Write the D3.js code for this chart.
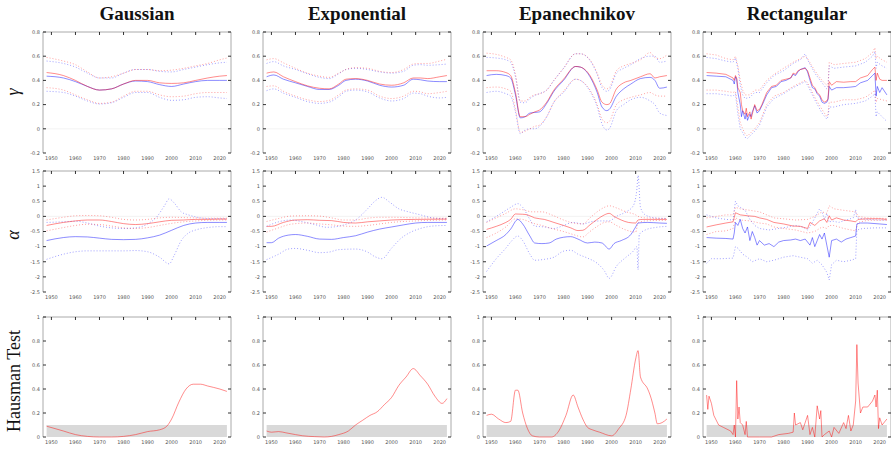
<!DOCTYPE html>
<html>
<head>
<meta charset="utf-8">
<script src="https://cdn.jsdelivr.net/npm/d3@7"></script>
<style>
  body { margin: 0; background: #fff; }
  svg { display: block; }
</style>
</head>
<body>
<svg id="chart" width="891" height="449"></svg>
<script>
// ---- data ----
const kernels = ["Gaussian", "Exponential", "Epanechnikov", "Rectangular"];
const yearTicks = [1950, 1960, 1970, 1980, 1990, 2000, 2010, 2020];
const gammaTicks = [-0.2, 0, 0.2, 0.4, 0.6, 0.8];
const alphaTicks = [-2.5, -2, -1.5, -1, -0.5, 0, 0.5, 1, 1.5];
const hausTicks = [0, 0.2, 0.4, 0.6, 0.8, 1];
const hausLevel = 0.1;

// Gaussian, gamma
const gauGammaRed = [[1948,0.465],[1955,0.44],[1960,0.40],[1965,0.35],[1970,0.32],[1975,0.33],[1980,0.37],[1985,0.40],[1990,0.40],[1995,0.38],[2000,0.375],[2005,0.38],[2010,0.40],[2015,0.42],[2020,0.435],[2023,0.44]];
const gauGammaBlue = [[1948,0.435],[1955,0.42],[1960,0.39],[1965,0.35],[1970,0.32],[1975,0.33],[1980,0.37],[1985,0.395],[1990,0.39],[1995,0.365],[2000,0.35],[2005,0.37],[2010,0.39],[2015,0.40],[2020,0.40],[2023,0.40]];
const gauGammaRedHi = [[1948,0.59],[1955,0.56],[1960,0.53],[1965,0.47],[1970,0.42],[1975,0.43],[1980,0.46],[1985,0.49],[1990,0.49],[1995,0.48],[2000,0.485],[2005,0.50],[2010,0.52],[2015,0.54],[2020,0.57],[2023,0.585]];
const gauGammaBlueHi = [[1948,0.56],[1955,0.54],[1960,0.51],[1965,0.46],[1970,0.42],[1975,0.42],[1980,0.46],[1985,0.49],[1990,0.49],[1995,0.475],[2000,0.47],[2005,0.49],[2010,0.51],[2015,0.53],[2020,0.545],[2023,0.55]];
const gauGammaRedLo = [[1948,0.34],[1955,0.32],[1960,0.28],[1965,0.24],[1970,0.21],[1975,0.22],[1980,0.27],[1985,0.31],[1990,0.31],[1995,0.28],[2000,0.265],[2005,0.27],[2010,0.29],[2015,0.30],[2020,0.30],[2023,0.30]];
const gauGammaBlueLo = [[1948,0.31],[1955,0.30],[1960,0.27],[1965,0.23],[1970,0.205],[1975,0.215],[1980,0.26],[1985,0.30],[1990,0.30],[1995,0.26],[2000,0.235],[2005,0.24],[2010,0.26],[2015,0.265],[2020,0.255],[2023,0.25]];

// Exponential, gamma
const expGammaRed = [[1948,0.46],[1951,0.47],[1955,0.43],[1960,0.39],[1965,0.355],[1970,0.335],[1974,0.33],[1978,0.37],[1981,0.41],[1985,0.415],[1990,0.40],[1995,0.37],[2000,0.36],[2005,0.38],[2009,0.42],[2012,0.42],[2015,0.415],[2020,0.43],[2023,0.44]];
const expGammaBlue = [[1948,0.43],[1951,0.445],[1955,0.41],[1960,0.38],[1965,0.35],[1970,0.325],[1974,0.325],[1978,0.36],[1981,0.40],[1985,0.41],[1990,0.395],[1995,0.36],[2000,0.345],[2005,0.36],[2009,0.41],[2012,0.405],[2015,0.395],[2020,0.39],[2023,0.39]];
const expGammaRedHi = [[1948,0.57],[1951,0.58],[1955,0.545],[1960,0.50],[1965,0.46],[1970,0.435],[1974,0.425],[1978,0.46],[1981,0.49],[1985,0.505],[1990,0.50],[1995,0.475],[2000,0.465],[2005,0.49],[2009,0.535],[2012,0.54],[2015,0.54],[2020,0.56],[2023,0.575]];
const expGammaBlueHi = [[1948,0.54],[1951,0.555],[1955,0.52],[1960,0.49],[1965,0.455],[1970,0.425],[1974,0.415],[1978,0.455],[1981,0.49],[1985,0.50],[1990,0.49],[1995,0.47],[2000,0.46],[2005,0.475],[2009,0.525],[2012,0.53],[2015,0.525],[2020,0.53],[2023,0.535]];
const expGammaRedLo = [[1948,0.35],[1951,0.355],[1955,0.31],[1960,0.27],[1965,0.24],[1970,0.225],[1974,0.235],[1978,0.28],[1981,0.32],[1985,0.33],[1990,0.32],[1995,0.27],[2000,0.25],[2005,0.27],[2009,0.31],[2012,0.305],[2015,0.29],[2020,0.30],[2023,0.31]];
const expGammaBlueLo = [[1948,0.315],[1951,0.33],[1955,0.295],[1960,0.26],[1965,0.225],[1970,0.21],[1974,0.22],[1978,0.265],[1981,0.31],[1985,0.32],[1990,0.305],[1995,0.255],[2000,0.23],[2005,0.25],[2009,0.295],[2012,0.29],[2015,0.27],[2020,0.255],[2023,0.26]];

// Epanechnikov, gamma
const epaGammaRed = [[1948,0.48],[1952,0.48],[1956,0.465],[1958,0.44],[1960,0.30],[1962,0.10],[1964,0.10],[1966,0.12],[1968,0.14],[1970,0.155],[1973,0.22],[1976,0.32],[1980,0.41],[1985,0.515],[1987,0.51],[1991,0.44],[1994,0.32],[1996,0.22],[1998,0.20],[1999,0.205],[2002,0.33],[2005,0.38],[2008,0.40],[2012,0.43],[2016,0.455],[2018,0.42],[2020,0.43],[2023,0.44]];
const epaGammaBlue = [[1948,0.44],[1952,0.45],[1956,0.44],[1958,0.42],[1960,0.28],[1962,0.09],[1964,0.10],[1966,0.13],[1968,0.135],[1970,0.14],[1973,0.21],[1976,0.31],[1980,0.40],[1985,0.515],[1987,0.51],[1991,0.43],[1994,0.30],[1996,0.18],[1998,0.15],[1999,0.16],[2002,0.27],[2005,0.33],[2008,0.37],[2012,0.415],[2016,0.425],[2018,0.40],[2020,0.335],[2023,0.345]];
const epaGammaRedHi = [[1948,0.625],[1952,0.615],[1956,0.59],[1958,0.57],[1960,0.45],[1962,0.23],[1964,0.23],[1966,0.26],[1968,0.28],[1970,0.29],[1973,0.32],[1976,0.40],[1980,0.50],[1985,0.62],[1987,0.62],[1991,0.57],[1994,0.46],[1996,0.36],[1998,0.33],[1999,0.34],[2002,0.48],[2005,0.52],[2008,0.54],[2012,0.57],[2016,0.63],[2018,0.59],[2020,0.58],[2023,0.61]];
const epaGammaBlueHi = [[1948,0.59],[1952,0.585],[1956,0.57],[1958,0.55],[1960,0.43],[1962,0.22],[1964,0.215],[1966,0.25],[1968,0.275],[1970,0.29],[1973,0.32],[1976,0.40],[1980,0.50],[1985,0.62],[1987,0.62],[1991,0.565],[1994,0.45],[1996,0.34],[1998,0.31],[1999,0.32],[2002,0.46],[2005,0.50],[2008,0.53],[2012,0.58],[2016,0.60],[2018,0.60],[2020,0.55],[2023,0.56]];
const epaGammaRedLo = [[1948,0.34],[1952,0.345],[1956,0.33],[1958,0.31],[1960,0.16],[1962,-0.03],[1964,-0.02],[1966,0.0],[1968,0.02],[1970,0.03],[1973,0.10],[1976,0.22],[1980,0.31],[1985,0.41],[1987,0.40],[1991,0.32],[1994,0.20],[1996,0.08],[1998,0.05],[1999,0.06],[2002,0.20],[2005,0.24],[2008,0.26],[2012,0.28],[2016,0.30],[2018,0.28],[2020,0.27],[2023,0.27]];
const epaGammaBlueLo = [[1948,0.30],[1952,0.31],[1956,0.29],[1958,0.27],[1960,0.14],[1962,-0.04],[1964,-0.01],[1966,0.0],[1968,0.0],[1970,0.02],[1973,0.10],[1976,0.22],[1980,0.30],[1985,0.41],[1987,0.40],[1991,0.31],[1994,0.18],[1996,0.04],[1998,-0.01],[1999,0.0],[2002,0.15],[2005,0.20],[2008,0.24],[2012,0.26],[2016,0.23],[2018,0.20],[2020,0.13],[2023,0.11]];

// Rectangular, gamma
const recGammaRed = [[1948,0.465],[1952,0.46],[1956,0.45],[1959,0.42],[1959.5,0.40],[1960,0.44],[1960.5,0.42],[1961,0.34],[1962,0.30],[1962.5,0.20],[1963,0.15],[1964,0.12],[1964.5,0.17],[1965,0.10],[1966,0.14],[1966.5,0.08],[1967,0.12],[1968,0.20],[1969,0.15],[1970,0.16],[1971,0.20],[1973,0.30],[1975,0.35],[1977,0.36],[1979,0.40],[1981,0.41],[1983,0.42],[1984,0.46],[1985,0.45],[1986,0.48],[1987,0.49],[1989,0.50],[1990,0.48],[1991,0.42],[1992,0.36],[1993,0.34],[1994,0.30],[1995,0.28],[1996,0.24],[1997,0.22],[1998,0.23],[1998.5,0.25],[1999,0.39],[2000,0.36],[2002,0.39],[2005,0.385],[2008,0.39],[2010,0.39],[2012,0.42],[2015,0.44],[2017,0.49],[2018,0.51],[2018.5,0.40],[2019,0.46],[2020,0.41],[2021,0.40],[2023,0.40]];
const recGammaBlue = [[1948,0.44],[1952,0.435],[1956,0.43],[1959,0.40],[1959.5,0.37],[1960,0.43],[1960.5,0.41],[1961,0.30],[1962,0.20],[1962.5,0.10],[1963,0.15],[1964,0.08],[1964.5,0.13],[1965,0.07],[1966,0.12],[1966.5,0.10],[1967,0.14],[1968,0.19],[1969,0.13],[1970,0.15],[1971,0.19],[1973,0.28],[1975,0.34],[1977,0.35],[1979,0.39],[1981,0.40],[1983,0.42],[1984,0.45],[1985,0.44],[1986,0.47],[1987,0.49],[1989,0.505],[1990,0.47],[1991,0.40],[1992,0.34],[1993,0.33],[1994,0.29],[1995,0.27],[1996,0.22],[1997,0.21],[1998,0.22],[1998.5,0.24],[1999,0.35],[2000,0.32],[2002,0.34],[2005,0.34],[2008,0.345],[2010,0.35],[2012,0.38],[2015,0.40],[2017,0.44],[2018,0.46],[2018.5,0.27],[2019,0.35],[2020,0.30],[2021,0.34],[2023,0.28]];
const recGammaRedHi = [[1948,0.62],[1952,0.61],[1956,0.58],[1959,0.57],[1960,0.60],[1961,0.52],[1962,0.40],[1963,0.32],[1964,0.28],[1966,0.28],[1968,0.32],[1970,0.32],[1973,0.40],[1976,0.45],[1980,0.50],[1984,0.55],[1987,0.58],[1989,0.60],[1990,0.58],[1993,0.48],[1996,0.40],[1998,0.36],[1998.5,0.35],[1999,0.55],[2001,0.53],[2005,0.54],[2010,0.55],[2014,0.58],[2017,0.63],[2018,0.67],[2018.5,0.58],[2019,0.60],[2021,0.57],[2023,0.55]];
const recGammaBlueHi = [[1948,0.59],[1952,0.58],[1956,0.56],[1959,0.55],[1960,0.585],[1961,0.50],[1962,0.36],[1963,0.28],[1964,0.25],[1966,0.26],[1968,0.30],[1970,0.30],[1973,0.38],[1976,0.44],[1980,0.48],[1984,0.54],[1987,0.57],[1989,0.62],[1990,0.57],[1993,0.46],[1996,0.38],[1998,0.33],[1998.5,0.34],[1999,0.52],[2001,0.50],[2005,0.51],[2010,0.52],[2014,0.55],[2017,0.60],[2018,0.64],[2018.5,0.50],[2019,0.55],[2021,0.52],[2023,0.50]];
const recGammaRedLo = [[1948,0.32],[1952,0.32],[1956,0.31],[1959,0.30],[1960,0.31],[1961,0.18],[1962,0.05],[1963,0.0],[1964,-0.04],[1965,-0.06],[1966,-0.04],[1968,0.0],[1970,0.05],[1973,0.20],[1976,0.27],[1980,0.30],[1984,0.35],[1987,0.38],[1989,0.40],[1990,0.38],[1993,0.26],[1996,0.16],[1998,0.10],[1998.5,0.12],[1999,0.22],[2001,0.22],[2005,0.24],[2010,0.24],[2014,0.26],[2017,0.30],[2018,0.32],[2018.5,0.22],[2019,0.25],[2021,0.24],[2023,0.23]];
const recGammaBlueLo = [[1948,0.29],[1952,0.29],[1956,0.28],[1959,0.27],[1960,0.29],[1961,0.12],[1962,0.0],[1963,-0.03],[1964,-0.07],[1965,-0.08],[1966,-0.06],[1968,-0.02],[1970,0.03],[1973,0.18],[1976,0.25],[1980,0.29],[1984,0.34],[1987,0.37],[1989,0.39],[1990,0.36],[1993,0.24],[1996,0.13],[1998,0.08],[1998.5,0.10],[1999,0.18],[2001,0.18],[2005,0.20],[2010,0.21],[2014,0.23],[2017,0.27],[2018,0.29],[2018.5,0.10],[2019,0.14],[2021,0.10],[2023,0.06]];

// Gaussian, alpha
const gauAlphaRed = [[1948,-0.30],[1955,-0.20],[1960,-0.15],[1965,-0.12],[1970,-0.12],[1975,-0.17],[1980,-0.24],[1985,-0.27],[1990,-0.24],[1995,-0.18],[2000,-0.13],[2005,-0.12],[2010,-0.10],[2015,-0.10],[2020,-0.09],[2023,-0.09]];
const gauAlphaBlue = [[1948,-0.80],[1955,-0.70],[1960,-0.67],[1965,-0.68],[1970,-0.72],[1975,-0.76],[1980,-0.77],[1985,-0.76],[1990,-0.71],[1995,-0.62],[2000,-0.46],[2005,-0.30],[2010,-0.22],[2015,-0.20],[2020,-0.20],[2023,-0.20]];
const gauAlphaRedHi = [[1948,-0.12],[1955,-0.03],[1960,0.02],[1965,0.03],[1970,0.02],[1975,-0.03],[1980,-0.10],[1985,-0.12],[1990,-0.10],[1995,-0.05],[2000,-0.03],[2005,-0.04],[2010,-0.05],[2015,-0.06],[2023,-0.06]];
const gauAlphaBlueHi = [[1948,-0.20],[1955,-0.18],[1960,-0.16],[1965,-0.22],[1970,-0.32],[1975,-0.38],[1980,-0.40],[1985,-0.38],[1990,-0.25],[1994,0.0],[1997,0.35],[1999,0.58],[2001,0.45],[2004,0.15],[2007,0.05],[2010,-0.02],[2015,-0.07],[2023,-0.08]];
const gauAlphaRedLo = [[1948,-0.48],[1955,-0.37],[1960,-0.30],[1965,-0.26],[1970,-0.27],[1975,-0.32],[1980,-0.38],[1985,-0.40],[1990,-0.37],[1995,-0.30],[2000,-0.23],[2005,-0.18],[2010,-0.15],[2015,-0.13],[2023,-0.12]];
const gauAlphaBlueLo = [[1948,-1.42],[1955,-1.25],[1960,-1.17],[1965,-1.14],[1970,-1.14],[1980,-1.14],[1985,-1.13],[1990,-1.17],[1995,-1.35],[1999,-1.57],[2001,-1.30],[2004,-0.80],[2007,-0.55],[2010,-0.45],[2015,-0.37],[2020,-0.34],[2023,-0.34]];

// Exponential, alpha
const expAlphaRed = [[1948,-0.33],[1950,-0.33],[1955,-0.20],[1960,-0.12],[1965,-0.11],[1970,-0.13],[1975,-0.14],[1980,-0.20],[1985,-0.22],[1990,-0.18],[1995,-0.15],[2000,-0.12],[2010,-0.10],[2023,-0.09]];
const expAlphaBlue = [[1948,-0.87],[1950,-0.87],[1953,-0.72],[1957,-0.62],[1960,-0.60],[1965,-0.66],[1970,-0.75],[1975,-0.76],[1980,-0.70],[1985,-0.64],[1990,-0.52],[1995,-0.42],[2000,-0.35],[2005,-0.28],[2010,-0.22],[2015,-0.20],[2023,-0.20]];
const expAlphaRedHi = [[1948,-0.17],[1953,-0.07],[1958,0.01],[1965,0.02],[1970,0.01],[1975,-0.05],[1980,-0.12],[1985,-0.12],[1990,-0.06],[1995,-0.03],[2000,-0.03],[2010,-0.05],[2023,-0.06]];
const expAlphaBlueHi = [[1948,-0.33],[1953,-0.18],[1958,-0.12],[1963,-0.18],[1968,-0.27],[1973,-0.36],[1977,-0.34],[1981,-0.26],[1985,-0.12],[1990,0.25],[1993,0.50],[1996,0.63],[1999,0.48],[2003,0.25],[2007,0.15],[2012,0.05],[2017,-0.05],[2023,-0.08]];
const expAlphaRedLo = [[1948,-0.52],[1953,-0.38],[1958,-0.26],[1965,-0.22],[1970,-0.25],[1975,-0.28],[1980,-0.32],[1985,-0.33],[1990,-0.30],[1995,-0.25],[2000,-0.20],[2010,-0.15],[2023,-0.12]];
const expAlphaBlueLo = [[1948,-1.43],[1953,-1.25],[1957,-1.08],[1960,-1.06],[1965,-1.12],[1970,-1.20],[1974,-1.18],[1978,-1.10],[1985,-1.08],[1990,-1.18],[1993,-1.33],[1996,-1.40],[2000,-1.05],[2004,-0.72],[2008,-0.52],[2012,-0.40],[2017,-0.32],[2023,-0.30]];

// Epanechnikov, alpha
const epaAlphaRed = [[1948,-0.43],[1952,-0.33],[1956,-0.20],[1958,-0.10],[1960,0.08],[1963,0.07],[1965,0.05],[1968,-0.05],[1972,-0.10],[1976,-0.20],[1980,-0.30],[1983,-0.38],[1986,-0.47],[1988,-0.46],[1991,-0.28],[1994,-0.10],[1997,0.05],[1999,0.10],[2001,0.0],[2004,-0.12],[2007,-0.20],[2010,-0.22],[2011,-0.12],[2013,-0.10],[2023,-0.10]];
const epaAlphaBlue = [[1948,-0.98],[1952,-0.80],[1956,-0.60],[1958,-0.42],[1961,-0.10],[1963,-0.25],[1966,-0.65],[1968,-0.88],[1971,-0.90],[1974,-0.88],[1977,-0.75],[1980,-0.69],[1983,-0.67],[1986,-0.75],[1990,-0.88],[1993,-0.85],[1996,-0.88],[1999,-1.08],[2001,-0.90],[2004,-0.80],[2008,-0.60],[2010,-0.35],[2011,-0.22],[2015,-0.20],[2020,-0.22],[2023,-0.23]];
const epaAlphaRedHi = [[1948,-0.20],[1952,-0.05],[1956,0.10],[1960,0.25],[1963,0.22],[1967,0.15],[1971,0.15],[1975,0.05],[1980,-0.12],[1984,-0.22],[1988,-0.25],[1991,-0.05],[1994,0.15],[1997,0.30],[1999,0.35],[2002,0.28],[2006,0.15],[2010,0.05],[2011,0.0],[2014,-0.05],[2023,-0.07]];
const epaAlphaBlueHi = [[1948,-0.18],[1952,0.0],[1956,0.20],[1958,0.30],[1961,0.42],[1963,0.30],[1966,-0.10],[1968,-0.32],[1972,-0.35],[1976,-0.40],[1980,-0.30],[1984,-0.20],[1988,-0.25],[1992,-0.17],[1996,-0.15],[1999,-0.15],[2002,0.0],[2006,0.15],[2009,0.35],[2010.5,0.90],[2011,1.35],[2012,0.30],[2014,0.05],[2018,-0.05],[2023,-0.07]];
const epaAlphaRedLo = [[1948,-0.70],[1952,-0.55],[1956,-0.35],[1960,-0.08],[1963,-0.10],[1967,-0.22],[1971,-0.30],[1975,-0.40],[1980,-0.50],[1984,-0.60],[1988,-0.68],[1991,-0.50],[1994,-0.33],[1997,-0.20],[1999,-0.18],[2002,-0.30],[2006,-0.45],[2010,-0.52],[2011,-0.22],[2014,-0.15],[2023,-0.13]];
const epaAlphaBlueLo = [[1948,-1.82],[1952,-1.40],[1956,-1.05],[1958,-0.85],[1961,-0.65],[1963,-0.80],[1966,-1.25],[1968,-1.45],[1972,-1.42],[1976,-1.35],[1980,-1.15],[1983,-1.12],[1986,-1.25],[1990,-1.38],[1994,-1.55],[1997,-1.80],[1999,-2.05],[2002,-1.65],[2006,-1.35],[2009,-1.15],[2010.5,-1.00],[2011,-1.76],[2011.5,-0.60],[2014,-0.45],[2018,-0.37],[2023,-0.33]];

// Rectangular, alpha
const recAlphaRed = [[1948,-0.35],[1952,-0.28],[1956,-0.22],[1959,-0.18],[1960,0.12],[1962,0.05],[1965,0.02],[1968,0.0],[1970,-0.05],[1973,-0.10],[1976,-0.20],[1980,-0.25],[1984,-0.32],[1987,-0.33],[1990,-0.40],[1991,-0.20],[1993,-0.30],[1995,-0.15],[1997,-0.08],[1998,-0.20],[1999,0.02],[2000,-0.12],[2002,-0.05],[2005,-0.12],[2008,-0.15],[2010,-0.18],[2011,-0.10],[2015,-0.08],[2020,-0.08],[2023,-0.10]];
const recAlphaBlue = [[1948,-0.70],[1952,-0.72],[1956,-0.73],[1959,-0.75],[1959.5,-0.55],[1960,-0.20],[1961,-0.30],[1962,-0.10],[1963,-0.40],[1964,-0.55],[1965,-0.35],[1966,-0.80],[1967,-0.50],[1968,-0.70],[1969,-0.95],[1970,-0.80],[1972,-0.95],[1974,-0.90],[1976,-1.00],[1978,-0.85],[1980,-0.80],[1983,-0.78],[1985,-0.75],[1987,-0.80],[1989,-0.75],[1991,-0.95],[1992,-0.70],[1993,-1.00],[1994,-0.80],[1995,-0.60],[1996,-0.75],[1997,-0.55],[1998,-0.95],[1999,-1.35],[2000,-0.80],[2002,-0.75],[2004,-0.85],[2006,-0.75],[2008,-0.70],[2010,-0.65],[2010.5,-0.25],[2012,-0.22],[2015,-0.22],[2020,-0.25],[2023,-0.27]];
const recAlphaRedHi = [[1948,-0.05],[1952,0.0],[1956,0.05],[1959,0.05],[1960,0.30],[1962,0.25],[1966,0.20],[1970,0.15],[1973,0.05],[1976,-0.05],[1980,-0.08],[1985,-0.12],[1990,-0.10],[1993,0.0],[1996,0.15],[1998,0.10],[1999,0.35],[2001,0.25],[2005,0.20],[2010,0.15],[2011,0.0],[2015,-0.05],[2023,-0.07]];
const recAlphaBlueHi = [[1948,0.05],[1952,-0.05],[1956,-0.10],[1959,-0.12],[1960,0.50],[1961,0.35],[1962,0.30],[1964,0.20],[1966,-0.10],[1968,-0.30],[1970,-0.40],[1974,-0.45],[1978,-0.40],[1982,-0.35],[1985,-0.30],[1988,-0.35],[1990,-0.45],[1992,-0.20],[1994,0.10],[1995,0.25],[1996,0.15],[1997,-0.10],[1998,0.10],[1999,-0.20],[2000,-0.15],[2003,-0.20],[2006,-0.12],[2009,-0.05],[2010,0.22],[2010.5,-0.05],[2015,-0.10],[2020,-0.12],[2023,-0.12]];
const recAlphaRedLo = [[1948,-0.60],[1952,-0.50],[1956,-0.48],[1959,-0.40],[1960,-0.05],[1962,-0.12],[1966,-0.15],[1970,-0.22],[1973,-0.25],[1976,-0.35],[1980,-0.40],[1985,-0.45],[1990,-0.55],[1993,-0.50],[1996,-0.35],[1998,-0.40],[1999,-0.30],[2001,-0.30],[2005,-0.40],[2010,-0.48],[2011,-0.20],[2015,-0.13],[2023,-0.13]];
const recAlphaBlueLo = [[1948,-1.55],[1950,-1.40],[1954,-1.40],[1959,-1.38],[1960,-1.00],[1961,-1.05],[1963,-1.25],[1965,-1.35],[1967,-1.50],[1970,-1.40],[1973,-1.50],[1976,-1.45],[1980,-1.35],[1984,-1.30],[1987,-1.35],[1990,-1.40],[1992,-1.55],[1994,-1.45],[1996,-1.60],[1998,-1.85],[1999,-2.10],[2000,-1.60],[2002,-1.45],[2005,-1.50],[2008,-1.45],[2010,-1.40],[2010.5,-0.45],[2013,-0.40],[2018,-0.38],[2023,-0.38]];

// Hausman test p-values
const gauHaus = [[1948,0.09],[1955,0.05],[1960,0.02],[1965,0.005],[1970,0.0],[1975,0.0],[1980,0.005],[1985,0.02],[1990,0.045],[1995,0.06],[1998,0.09],[2000,0.15],[2003,0.29],[2006,0.40],[2009,0.44],[2012,0.44],[2015,0.425],[2020,0.40],[2023,0.38]];
const expHaus = [[1948,0.05],[1950,0.04],[1953,0.045],[1956,0.035],[1960,0.02],[1963,0.01],[1968,0.003],[1972,0.0],[1975,0.005],[1978,0.02],[1982,0.05],[1985,0.10],[1988,0.14],[1991,0.18],[1994,0.21],[1997,0.27],[2000,0.33],[2003,0.43],[2006,0.50],[2009,0.57],[2012,0.51],[2015,0.44],[2018,0.34],[2021,0.28],[2023,0.32]];
const epaHaus = [[1948,0.18],[1950,0.19],[1953,0.15],[1956,0.12],[1958,0.13],[1960,0.39],[1961,0.39],[1963,0.20],[1965,0.07],[1967,0.01],[1970,0.0],[1975,0.0],[1978,0.05],[1981,0.18],[1984,0.35],[1986,0.25],[1988,0.15],[1990,0.08],[1992,0.06],[1995,0.04],[2000,0.01],[2003,0.07],[2006,0.18],[2008,0.40],[2010,0.65],[2011,0.72],[2012,0.50],[2015,0.40],[2016,0.35],[2018,0.20],[2019,0.11],[2021,0.12],[2023,0.15]];
const recHaus = [[1948,0.35],[1948.5,0.23],[1949,0.34],[1950,0.28],[1951,0.18],[1953,0.10],[1955,0.08],[1958,0.05],[1959,0.02],[1959.5,0.10],[1960,0.0],[1960.5,0.47],[1961,0.15],[1961.5,0.25],[1962,0.12],[1963,0.10],[1964,0.02],[1964.5,0.13],[1965,0.0],[1966,0.0],[1970,0.0],[1975,0.0],[1978,0.02],[1982,0.03],[1984,0.04],[1984.5,0.20],[1985,0.10],[1987,0.12],[1988,0.06],[1990,0.18],[1991,0.02],[1992,0.08],[1993,0.0],[1994,0.26],[1995,0.15],[1995.5,0.22],[1996,0.0],[1997,0.02],[1999,0.05],[2000,0.0],[2001,0.08],[2003,0.03],[2005,0.12],[2006,0.07],[2007,0.18],[2008,0.05],[2009,0.10],[2010,0.30],[2010.5,0.77],[2011,0.45],[2012,0.20],[2013,0.25],[2015,0.25],[2017,0.30],[2018,0.35],[2018.5,0.25],[2019,0.39],[2019.5,0.07],[2020,0.16],[2021,0.10],[2023,0.15]];

// ---- layout ----
var svg = d3.select("#chart");
var col_x0 = 43, col_step = 220, panel_w = 188;
var rows = [
  { top: 32,  h: 121, domain: [-0.2, 0.8], ticks: gammaTicks, zero: true },
  { top: 171, h: 121, domain: [-2.5, 1.5], ticks: alphaTicks, zero: true },
  { top: 317, h: 120, domain: [0, 1],      ticks: hausTicks,  zero: false }
];
var red = "#ff0000", blue = "#0000ff";
var fmt = function (v) { return String(+v.toFixed(1)); };

var gammaSets = [
  [gauGammaRed, gauGammaBlue, gauGammaRedHi, gauGammaBlueHi, gauGammaRedLo, gauGammaBlueLo],
  [expGammaRed, expGammaBlue, expGammaRedHi, expGammaBlueHi, expGammaRedLo, expGammaBlueLo],
  [epaGammaRed, epaGammaBlue, epaGammaRedHi, epaGammaBlueHi, epaGammaRedLo, epaGammaBlueLo],
  [recGammaRed, recGammaBlue, recGammaRedHi, recGammaBlueHi, recGammaRedLo, recGammaBlueLo]
];
var alphaSets = [
  [gauAlphaRed, gauAlphaBlue, gauAlphaRedHi, gauAlphaBlueHi, gauAlphaRedLo, gauAlphaBlueLo],
  [expAlphaRed, expAlphaBlue, expAlphaRedHi, expAlphaBlueHi, expAlphaRedLo, expAlphaBlueLo],
  [epaAlphaRed, epaAlphaBlue, epaAlphaRedHi, epaAlphaBlueHi, epaAlphaRedLo, epaAlphaBlueLo],
  [recAlphaRed, recAlphaBlue, recAlphaRedHi, recAlphaBlueHi, recAlphaRedLo, recAlphaBlueLo]
];
var hausSets = [gauHaus, expHaus, epaHaus, recHaus];

function draw_frame(g, x, y, row) {
  // faint zero line
  if (row.zero) {
    g.append("line").attr("x1", 0).attr("x2", panel_w)
      .attr("y1", y(0)).attr("y2", y(0))
      .attr("stroke", "#f0f0f0").attr("stroke-width", 0.8);
  }
  // left + top + right frame lines
  g.append("path")
    .attr("d", "M0," + row.h + "V0H" + panel_w + "V" + row.h)
    .attr("fill", "none").attr("stroke", "#aaaaaa").attr("stroke-width", 1);

  // y ticks, left and right, pointing inward
  row.ticks.forEach(function (t) {
    g.append("line").attr("x1", 0).attr("x2", 3).attr("y1", y(t)).attr("y2", y(t))
      .attr("stroke", "#000").attr("stroke-width", 0.8);
    g.append("line").attr("x1", panel_w - 3).attr("x2", panel_w).attr("y1", y(t)).attr("y2", y(t))
      .attr("stroke", "#000").attr("stroke-width", 0.8);
    g.append("text").attr("x", -3).attr("y", y(t) + 1.8)
      .attr("text-anchor", "end")
      .style("font-family", "DejaVu Sans").style("font-size", "5px").style("fill", "#555")
      .text(fmt(t));
  });
  // x ticks on top, labels under the panel
  yearTicks.forEach(function (t) {
    g.append("line").attr("x1", x(t)).attr("x2", x(t)).attr("y1", 0).attr("y2", 3)
      .attr("stroke", "#000").attr("stroke-width", 0.8);
    g.append("text").attr("x", x(t)).attr("y", row.h + 7)
      .attr("text-anchor", "middle")
      .style("font-family", "DejaVu Sans").style("font-size", "5px").style("fill", "#555")
      .text(t);
  });
}

function draw_series(g, x, y, data, color, dotted, curve) {
  var line_gen = d3.line()
    .x(function (d) { return x(d[0]); })
    .y(function (d) { return y(d[1]); })
    .curve(curve);
  g.append("path").datum(data)
    .attr("d", line_gen)
    .attr("fill", "none")
    .attr("stroke", color)
    .attr("stroke-opacity", dotted ? 0.42 : 0.5)
    .attr("stroke-width", 0.9)
    .attr("stroke-dasharray", dotted ? "1,2" : null);
}

kernels.forEach(function (name, c) {
  var left = col_x0 + c * col_step;
  var x = d3.scaleLinear().domain([1946.5, 2024.7]).range([0, panel_w]);
  var curve = (c === 3) ? d3.curveLinear : d3.curveMonotoneX;

  // Title
  svg.append("text")
    .attr("x", left + panel_w / 2).attr("y", 20)
    .attr("text-anchor", "middle")
    .style("font-family", "Liberation Serif").style("font-weight", "bold")
    .style("font-size", "19px").style("fill", "#111")
    .text(name);

  rows.forEach(function (row, r) {
    var g = svg.append("g").attr("transform", "translate(" + left + "," + row.top + ")");
    var y = d3.scaleLinear().domain(row.domain).range([row.h, 0]);

    if (r === 2) {
      // significance band 0..0.1
      var h = hausSets[c];
      g.append("rect")
        .attr("x", x(h[0][0])).attr("width", x(h[h.length - 1][0]) - x(h[0][0]))
        .attr("y", y(hausLevel)).attr("height", y(0) - y(hausLevel))
        .attr("fill", "#d9d9d9");
    }

    draw_frame(g, x, y, row);

    if (r < 2) {
      var s = (r === 0) ? gammaSets[c] : alphaSets[c];
      // dotted bands first, then point estimates
      draw_series(g, x, y, s[3], blue, true, curve);
      draw_series(g, x, y, s[5], blue, true, curve);
      draw_series(g, x, y, s[2], red, true, curve);
      draw_series(g, x, y, s[4], red, true, curve);
      draw_series(g, x, y, s[1], blue, false, curve);
      draw_series(g, x, y, s[0], red, false, curve);
    } else {
      draw_series(g, x, y, hausSets[c], red, false, curve);
    }
  });
});

// Row labels
function row_label(txt, cx, cy, size, italic) {
  svg.append("text")
    .attr("transform", "translate(" + cx + "," + cy + ") rotate(-90)")
    .attr("text-anchor", "middle")
    .style("font-family", "Liberation Serif")
    .style("font-style", italic ? "italic" : "normal")
    .style("font-size", size).style("fill", "#111")
    .text(txt);
}
row_label("γ", 19, 92, "18px", true);
row_label("α", 19, 235, "18px", true);
row_label("Hausman Test", 20, 381, "18px", false);
</script>
</body>
</html>
